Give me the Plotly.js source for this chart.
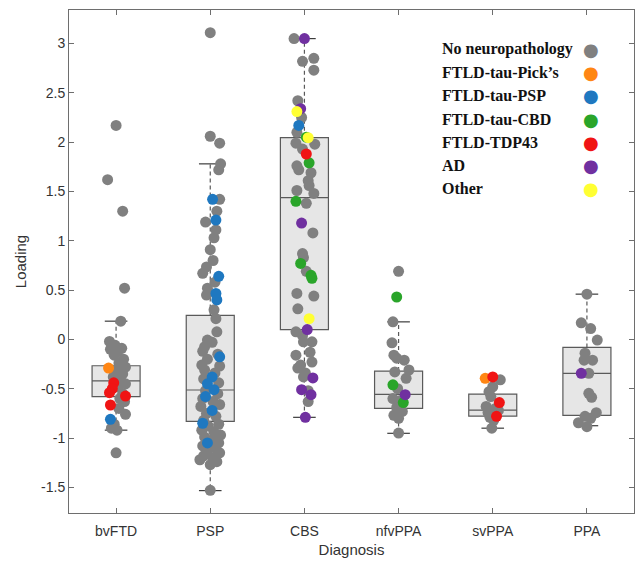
<!DOCTYPE html>
<html>
<head>
<meta charset="utf-8">
<script src="https://cdn.plot.ly/plotly-3.0.1.min.js"></script>
<style>html,body{margin:0;padding:0;background:#fff;}#chart{width:640px;height:564px;}</style>
</head>
<body>
<div id="chart"></div>
<script>
// ---- categories ----
const diagnoses = ['bvFTD', 'PSP', 'CBS', 'nfvPPA', 'svPPA', 'PPA'];
const yTicks = [-1.5, -1, -0.5, 0, 0.5, 1, 1.5, 2, 2.5, 3];

// ---- box statistics (per diagnosis) ----
const boxQ1 = [-0.58, -0.83, 0.10, -0.70, -0.777, -0.77];
const boxMedian = [-0.42, -0.513, 1.438, -0.557, -0.716, -0.344];
const boxQ3 = [-0.267, 0.243, 2.045, -0.321, -0.554, -0.081];
const whiskerLow = [-0.92, -1.533, -0.79, -0.952, -0.90, -0.875];
const whiskerHigh = [0.185, 1.78, 3.05, 0.178, -0.38, 0.459];

// ---- individual subjects, by neuropathology (x = jittered diagnosis position) ----
const noneX = [
  1.00, 0.91, 1.07, 1.09, 1.05, 0.93, 0.99, 1.06, 1.02, 0.98, 1.08, 1.03, 1.10, 1.01, 1.07, 0.97, 1.05, 1.10, 1.02, 1.07, 1.04, 1.09, 1.03, 1.10, 0.98, 0.95, 1.01, 1.00, 0.94, 1.04,
  2.00, 2.00, 2.10, 2.11, 2.09, 2.10, 2.07, 1.95, 2.06, 2.04, 2.00, 2.03, 1.96, 1.92, 2.05, 1.97, 1.96, 2.04, 2.06, 2.07, 1.97, 1.94, 2.10, 1.94,
  2.02, 1.92, 2.08, 1.97, 1.91, 2.05, 1.93, 2.09, 1.95, 2.08, 1.92, 2.03, 1.90, 2.10, 1.96, 2.06, 1.93, 2.09, 1.98, 1.91, 2.04, 2.11, 1.94, 2.02, 2.09, 1.92, 2.05, 1.97, 2.10, 1.93, 2.03, 1.89, 2.07, 2.00, 2.00,
  2.89, 2.98, 3.10, 3.10, 2.93, 2.97, 2.92, 3.11, 2.91, 2.98, 2.92, 2.94, 3.07, 3.04, 3.05, 3.10, 2.92, 3.02, 3.09, 2.98, 2.99, 3.02, 2.92, 3.10, 2.93, 2.91, 2.98, 2.99, 3.08, 2.91, 3.06, 3.08, 2.93, 2.99, 3.01, 3.04, 3.04, 2.96,
  4.00, 3.94, 3.93, 3.95, 3.98, 4.06, 4.11, 3.96, 4.08, 3.99, 3.94, 3.98, 4.04, 3.95, 4.00, 4.02, 4.00,
  5.08, 4.96, 4.98, 4.93, 5.03, 4.95, 4.97, 5.01, 4.99, 5.06, 5.00,
  6.00, 5.94, 6.04, 6.11, 5.98, 5.97, 6.06, 6.02, 6.02, 6.05, 6.10, 5.98, 6.04, 5.91, 6.00
];
const noneY = [
  2.17, 1.62, 1.30, 0.52, 0.185, -0.02, -0.06, -0.09, -0.12, -0.16, -0.20, -0.24, -0.28, -0.31, -0.35, -0.38, -0.42, -0.45, -0.48, -0.55, -0.60, -0.63, -0.70, -0.76, -0.86, -0.90, -0.92, -1.15, -0.10, -0.33,
  3.11, 2.06, 1.99, 1.78, 1.72, 1.42, 1.30, 1.19, 1.11, 1.03, 0.91, 0.80, 0.735, 0.67, 0.58, 0.52, 0.45, 0.30, 0.21, 0.077, -0.007, -0.075, -0.27, -0.31,
  -0.03, -0.12, -0.15, -0.20, -0.26, -0.34, -0.40, -0.44, -0.52, -0.55, -0.60, -0.63, -0.68, -0.66, -0.75, -0.78, -0.82, -0.86, -0.88, -0.92, -0.94, -0.97, -0.99, -1.02, -1.05, -1.08, -1.10, -1.13, -1.15, -1.18, -1.20, -1.22, -1.24, -1.27, -1.53,
  3.05, 2.82, 2.85, 2.73, 2.42, 2.25, 2.10, 1.98, 1.99, 1.93, 1.76, 1.72, 1.69, 1.61, 1.56, 1.48, 1.51, 1.38, 1.08, 0.87, 0.83, 0.69, 0.466, 0.44, 0.31, 0.077, 0.04, -0.024, -0.024, -0.16, -0.13, -0.23, -0.29, -0.38, -0.34, -0.52, -0.63, -0.26,
  0.69, 0.178, -0.034, -0.16, -0.19, -0.21, -0.31, -0.33, -0.395, -0.50, -0.60, -0.69, -0.73, -0.77, -0.80, -0.62, -0.95,
  -0.41, -0.53, -0.58, -0.68, -0.70, -0.74, -0.79, -0.82, -0.90, -0.72, -0.48,
  0.459, 0.168, 0.11, -0.007, -0.14, -0.21, -0.21, -0.344, -0.547, -0.587, -0.743, -0.78, -0.80, -0.845, -0.885
];
const pickX = [0.92, 4.92];
const pickY = [-0.29, -0.395];
const pspX = [0.94, 2.025, 2.06, 2.09, 2.06, 2.07, 2.10, 2.02, 1.97, 2.04, 1.95, 2.02, 1.92, 1.97, 2.94];
const pspY = [-0.81, 1.42, 1.21, 0.64, 0.466, 0.40, -0.176, -0.38, -0.45, -0.51, -0.58, -0.72, -0.85, -1.05, 2.17];
const cbdX = [3.02, 3.05, 2.91, 2.96, 3.07, 3.08, 3.98, 3.94, 4.05];
const cbdY = [2.05, 1.79, 1.40, 0.77, 0.65, 0.62, 0.43, -0.46, -0.64];
const tdpX = [0.975, 0.96, 0.93, 1.10, 0.94, 3.02, 5.00, 5.07, 5.04];
const tdpY = [-0.44, -0.50, -0.54, -0.574, -0.665, 1.88, -0.38, -0.64, -0.78];
const adX = [3.00, 2.96, 2.97, 3.03, 3.09, 2.97, 3.07, 3.01, 4.07, 5.94];
const adY = [3.05, 2.34, 1.18, 0.10, -0.39, -0.51, -0.56, -0.79, -0.56, -0.344];
const otherX = [2.92, 3.04, 3.05];
const otherY = [2.31, 2.045, 0.21];

const pathologyNames = ['No neuropathology', 'FTLD-tau-Pick\u2019s', 'FTLD-tau-PSP', 'FTLD-tau-CBD', 'FTLD-TDP43', 'AD', 'Other'];
const pathologyColors = ['#808080', '#ff8614', '#1f78c0', '#2aa52a', '#f01414', '#7030a0', '#ffff33'];
const pathologyX = [noneX, pickX, pspX, cbdX, tdpX, adX, otherX];
const pathologyY = [noneY, pickY, pspY, cbdY, tdpY, adY, otherY];

// ---- build traces ----
const pos = diagnoses.map((d, i) => i + 1);
const traces = [];
traces.push({
  type: 'box', x: pos, q1: boxQ1, median: boxMedian, q3: boxQ3,
  lowerfence: boxQ1, upperfence: boxQ3,
  width: 0.51, whiskerwidth: 0, boxpoints: false,
  fillcolor: '#e6e6e6', line: {color: '#5a5a5a', width: 1.2},
  hoverinfo: 'skip', showlegend: false
});
// dashed whiskers and solid caps
const wx = [], wy = [], cx = [], cy = [];
const capHalf = 0.12;
pos.forEach((p, i) => {
  wx.push(p, p, null, p, p, null);
  wy.push(boxQ3[i], whiskerHigh[i], null, boxQ1[i], whiskerLow[i], null);
  cx.push(p - capHalf, p + capHalf, null, p - capHalf, p + capHalf, null);
  cy.push(whiskerHigh[i], whiskerHigh[i], null, whiskerLow[i], whiskerLow[i], null);
});
traces.push({type: 'scatter', mode: 'lines', x: wx, y: wy, line: {color: '#5a5a5a', width: 1.2, dash: '4px,3px'}, hoverinfo: 'skip', showlegend: false});
traces.push({type: 'scatter', mode: 'lines', x: cx, y: cy, line: {color: '#3c3c3c', width: 1.2}, hoverinfo: 'skip', showlegend: false});
pathologyNames.forEach((n, k) => {
  traces.push({
    type: 'scatter', mode: 'markers', name: n,
    x: pathologyX[k], y: pathologyY[k],
    marker: {color: pathologyColors[k], size: 11, line: {width: 0}},
    showlegend: false
  });
});

// ---- legend drawn as annotations (labels left, dots right) ----
const annotations = [];
pathologyNames.forEach((n, k) => {
  const yy = 0.922 - k * 0.0463;
  annotations.push({xref: 'paper', yref: 'paper', x: 0.656, y: yy, xanchor: 'left', yanchor: 'middle',
    text: '<b>' + n + '</b>', showarrow: false,
    font: {family: 'Liberation Serif, Times New Roman, serif', size: 16, color: '#111'}});
  annotations.push({xref: 'paper', yref: 'paper', x: 0.9246, y: yy, xanchor: 'center', yanchor: 'middle',
    text: '\u25CF', showarrow: false,
    font: {family: 'DejaVu Sans', size: 18, color: pathologyColors[k]}});
});

const axisCommon = {
  showline: true, linecolor: '#6e6e6e', linewidth: 1, mirror: 'ticks',
  ticks: 'inside', ticklen: 5, tickcolor: '#6e6e6e', showgrid: false, zeroline: false,
  tickfont: {family: 'Liberation Sans, Arial, sans-serif', size: 14, color: '#333'}
};
const layout = {
  width: 640, height: 564,
  margin: {l: 69, r: 6, t: 10, b: 51},
  paper_bgcolor: '#fff', plot_bgcolor: '#fff',
  showlegend: false,
  xaxis: Object.assign({}, axisCommon, {
    range: [0.5, 6.5], tickvals: pos, ticktext: diagnoses, ticklabelstandoff: 5,
    title: {text: 'Diagnosis', standoff: 6, font: {family: 'Liberation Sans, Arial, sans-serif', size: 15, color: '#333'}}
  }),
  yaxis: Object.assign({}, axisCommon, {
    range: [-1.76, 3.34], tickvals: yTicks, ticktext: yTicks.map(String),
    title: {text: 'Loading', standoff: 10, font: {family: 'Liberation Sans, Arial, sans-serif', size: 15, color: '#333'}}
  }),
  annotations: annotations
};
Plotly.newPlot('chart', traces, layout, {staticPlot: true, displayModeBar: false});
</script>
</body>
</html>
